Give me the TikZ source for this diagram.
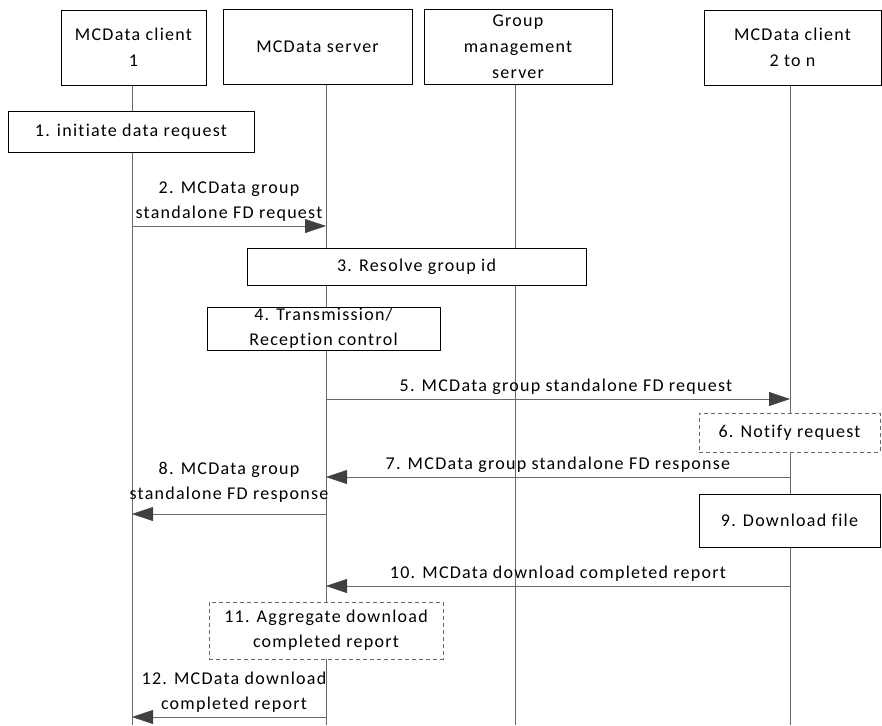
\documentclass[tikz,border=0pt]{standalone}
\usepackage{fontspec}
\setmainfont{Carlito}[LetterSpace=7,Ligatures={NoCommon,NoRare}]
\usetikzlibrary{arrows.meta}
\definecolor{linegray}{RGB}{105,105,105}
\definecolor{tipgray}{RGB}{64,64,64}
\newcommand{\msgfont}{\fontsize{18pt}{25pt}\selectfont}

\begin{document}
\begin{tikzpicture}[x=1pt,y=-1pt]
\tikzset{edge/.style = {-{Triangle[length=21pt,width=14pt,color=tipgray]},draw=linegray},
  life/.style = {draw=linegray},
  head/.style = {draw=black,fill=white,align=center,inner sep=0pt,minimum height=75pt,font=\fontsize{18pt}{26pt}\selectfont},
  stepbox/.style = {draw=black,fill=white,align=center,inner sep=0pt,font=\msgfont},
  optbox/.style = {stepbox,draw=linegray,dash pattern=on 4pt off 3pt},
  lbl/.style = {above=4pt,inner sep=0pt,align=center,font=\msgfont}}
\useasboundingbox (0,0) rectangle (882,725);

% lifelines
\coordinate (t1) at (132,84);
\coordinate (b1) at (132,725);
\coordinate (t2) at (326,84);
\coordinate (b2) at (326,725);
\coordinate (t3) at (515,84);
\coordinate (b3) at (515,725);
\coordinate (t4) at (790,84);
\coordinate (b4) at (790,725);
\foreach \t/\b in {t1/b1,t2/b2,t3/b3,t4/b4}
  \draw[life] (\t) -- (\b);

% heads
\node[head,minimum width=145pt] (c1) at (133.5,47.5) {MCData client\\1};
\node[head,minimum width=189pt] (ms) at (317.5,46.5) {MCData server};
\node[head,minimum width=188pt] (gms) at (518,46.5) {Group\\management\\server};
\node[head,minimum width=177pt] (c2) at (792.5,47.5) {MCData client\\2 to n};

% steps
\node[stepbox,minimum width=246pt,minimum height=41pt] (s1) at (131,131.5) {1. initiate data request};
\node[stepbox,minimum width=339pt,minimum height=37pt] (s3) at (416.5,266.5) {3. Resolve group id};
\node[stepbox,minimum width=233pt,minimum height=43pt] (s4) at (323.5,328.5) {4. Transmission/\\Reception control};
\node[optbox,minimum width=181pt,minimum height=39pt] (s6) at (789.5,432.5) {6. Notify request};
\node[stepbox,minimum width=181pt,minimum height=53pt] (s9) at (789.5,520.5) {9. Download file};
\node[optbox,minimum width=234pt,minimum height=57pt] (s11) at (326,630.5) {11. Aggregate download\\completed report};

% messages
\coordinate (m2a) at (132,226);
\coordinate (m2b) at (326,226);
\coordinate (m5a) at (326,399);
\coordinate (m5b) at (790,399);
\coordinate (m7a) at (790,477);
\coordinate (m7b) at (326,477);
\coordinate (m8a) at (326,514);
\coordinate (m8b) at (132,514);
\coordinate (m10a) at (790,586);
\coordinate (m10b) at (326,586);
\coordinate (m12a) at (326,717);
\coordinate (m12b) at (132,717);

\draw[edge] (m2a) -- node[lbl] {2. MCData group\\standalone FD request} (m2b);
\draw[edge] (m5a) -- node[lbl,xshift=8pt] {5. MCData group standalone FD request} (m5b);
\draw[edge] (m7a) -- node[lbl] {7. MCData group standalone FD response} (m7b);
\draw[edge] (m8a) -- node[lbl,above=7pt] {8. MCData group\\standalone FD response} (m8b);
\draw[edge] (m10a) -- node[lbl] {10. MCData download completed report} (m10b);
\draw[edge] (m12a) -- node[lbl,xshift=5pt] {12. MCData download\\completed report} (m12b);

\end{tikzpicture}
\end{document}
